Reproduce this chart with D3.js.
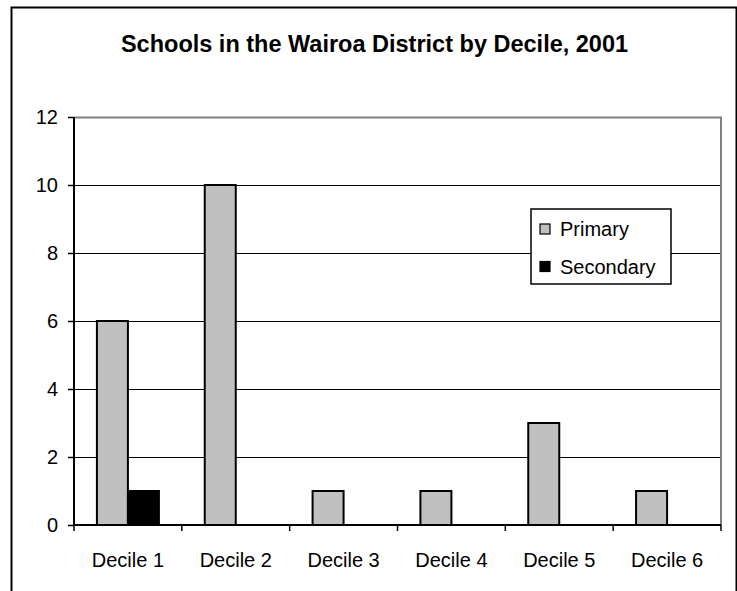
<!DOCTYPE html>
<html>
<head>
<meta charset="utf-8">
<script src="https://cdn.jsdelivr.net/npm/d3@7"></script>
<style>
  body { margin: 0; background: #fff; }
  svg { font-family: "Liberation Sans", Arial, sans-serif; }
</style>
</head>
<body>
<div id="chart"></div>
<script>
// data
const categories = ["Decile 1", "Decile 2", "Decile 3", "Decile 4", "Decile 5", "Decile 6"];
const seriesNames = ["Primary", "Secondary"];
const primary = [6, 10, 1, 1, 3, 1];
const secondary = [1, 0, 0, 0, 0, 0];
const yTicks = [0, 2, 4, 6, 8, 10, 12];
const colors = { Primary: "#c0c0c0", Secondary: "#000000" };

const W = 737, H = 591;
const m = { top: 117, left: 74, right: 16, bottom: 66 };
const cw = W - m.left - m.right;
const ch = H - m.top - m.bottom;
const FONT = "Liberation Sans, Arial, sans-serif";

let svg = d3.select("#chart").append("svg")
   .attr("width", W)
   .attr("height", H);

// outer frame
svg.append("path")
   .attr("d", "M11.5," + H + "V7.5H736.5V" + H)
   .attr("fill", "none")
   .attr("stroke", "#000")
   .attr("stroke-width", 2);

svg.append("text")
   .attr("x", 374.5)
   .attr("y", 52)
   .attr("text-anchor", "middle")
   .attr("font-size", 23.5)
   .attr("font-weight", "bold")
   .text("Schools in the Wairoa District by Decile, 2001");

let g = svg.append("g")
   .attr("transform", "translate(" + m.left + "," + m.top + ")");

let x = d3.scaleBand().domain(categories).range([0, cw]);
let y = d3.scaleLinear().domain([0, 12]).range([ch, 0]);

let rows = categories.map((c, i) => ({ cat: c, Primary: primary[i], Secondary: secondary[i] }));

// gridlines
g.selectAll(".grid")
   .data(yTicks.filter(t => t > 0 && t < 12))
 .enter().append("line")
   .attr("x1", 0).attr("x2", cw)
   .attr("y1", d => Math.round(y(d)) + 0.5)
   .attr("y2", d => Math.round(y(d)) + 0.5)
   .attr("stroke", "#000");

// plot border (top/right gray)
g.append("path")
   .attr("d", "M0," + (Math.round(y(12)) + 0.5) + "H" + cw + "V" + ch)
   .attr("fill", "none")
   .attr("stroke", "#808080")
   .attr("stroke-width", 2);

// bars
let barW = 31;
let pad = (x.bandwidth() - 2 * barW) / 2;
let grp = g.selectAll(".grp")
   .data(rows)
 .enter().append("g")
   .attr("transform", d => "translate(" + x(d.cat) + ",0)");

grp.selectAll("rect")
   .data(d => seriesNames.map((s, j) => ({ s: s, j: j, v: d[s] })).filter(e => e.v > 0))
 .enter().append("rect")
   .attr("x", d => pad + d.j * barW)
   .attr("y", d => y(d.v))
   .attr("width", barW)
   .attr("height", d => ch - y(d.v))
   .attr("fill", d => colors[d.s])
   .attr("stroke", "#000")
   .attr("stroke-width", 2);

// y axis
let ya = g.append("g")
   .call(d3.axisLeft(y).tickValues(yTicks).tickSize(6).tickPadding(10));
ya.select(".domain").attr("stroke-width", 2).attr("d", "M0,0V" + ch);
ya.selectAll("text").attr("font-size", 20).attr("font-family", FONT).attr("fill", "#000");
ya.selectAll(".tick line").attr("stroke-width", 1.5);

// x axis
let xa = g.append("g")
   .attr("transform", "translate(0," + ch + ")")
   .call(d3.axisBottom(x).tickSize(0).tickPadding(28));
xa.select(".domain").attr("stroke-width", 2).attr("d", "M0,0H" + cw);
xa.selectAll("text").attr("font-size", 20).attr("font-family", FONT).attr("fill", "#000");
xa.selectAll(".sep")
   .data(d3.range(categories.length + 1))
 .enter().append("line")
   .attr("x1", i => i * x.step()).attr("x2", i => i * x.step())
   .attr("y1", 0).attr("y2", 6)
   .attr("stroke", "#000").attr("stroke-width", 1.5);

// legend
let lg = svg.append("g").attr("transform", "translate(531,209)");
lg.append("rect")
   .attr("width", 140).attr("height", 75)
   .attr("fill", "#fff").attr("stroke", "#000").attr("stroke-width", 1.5);
let li = lg.selectAll(".li")
   .data(seriesNames)
 .enter().append("g")
   .attr("transform", (d, i) => "translate(9," + (20 + i * 37.5) + ")");
li.append("rect")
   .attr("x", 0).attr("y", -5).attr("width", 10).attr("height", 10)
   .attr("fill", d => colors[d]).attr("stroke", "#000").attr("stroke-width", 1.2);
li.append("text")
   .attr("x", 20).attr("y", 0).attr("dy", "0.35em")
   .attr("font-size", 20)
   .attr("font-family", FONT)
   .text(d => d);
</script>
</body>
</html>
